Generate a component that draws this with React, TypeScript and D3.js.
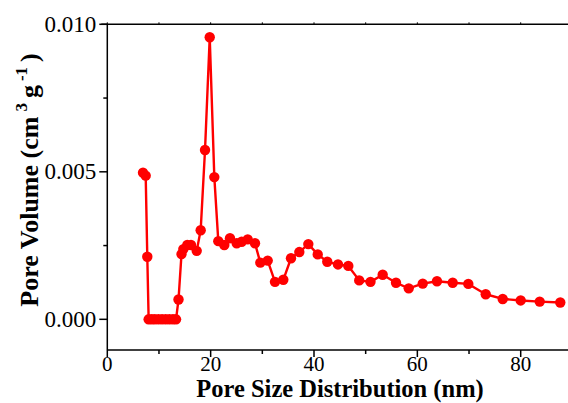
import React from "react";
import * as d3 from "d3";

const poreSize = [6.91, 7.43, 7.74, 8.0, 8.6, 9.2, 9.9, 10.6, 11.3, 12.0, 12.7, 13.3, 13.78, 14.36, 14.71, 15.48, 16.2, 17.3, 18.07, 18.91, 19.82, 20.71, 21.48, 22.64, 23.74, 25.04, 26.0, 27.17, 28.58, 29.61, 31.04, 32.45, 34.06, 35.55, 37.16, 38.9, 40.72, 42.57, 44.64, 46.64, 48.75, 50.93, 53.29, 55.87, 58.33, 61.04, 63.8, 66.84, 69.86, 73.23, 76.52, 80.0, 83.68, 87.66];
const poreVolume = [0.00497, 0.00487, 0.00212, 0, 0, 0, 0, 0, 0, 0, 0, 0, 0.00067, 0.00221, 0.00238, 0.00252, 0.00252, 0.00232, 0.00302, 0.00574, 0.00956, 0.00482, 0.00265, 0.00252, 0.00275, 0.00258, 0.00263, 0.00271, 0.00258, 0.00192, 0.00199, 0.00127, 0.00134, 0.00207, 0.00228, 0.00255, 0.0022, 0.00195, 0.00186, 0.00181, 0.00132, 0.00127, 0.00151, 0.00124, 0.00105, 0.00121, 0.00129, 0.00124, 0.0012, 0.00085, 0.00069, 0.00064, 0.0006, 0.00057];

const xMajorTicks = [0, 20, 40, 60, 80];
const xMinorTicks = [10, 30, 50, 70];
const yMajorTicks = [0, 0.005, 0.01];
const yMinorTicks = [0.0025, 0.0075];

const xTitle = "Pore Size Distribution (nm)";

const W = 568;
const H = 403;
const FONT = "'Liberation Serif', 'Times New Roman', serif";

export default function App() {
  const left = 107.3;
  const top = 24.3;
  const bottom = 350;
  const x = d3.scaleLinear().domain([0, 90]).range([left, left + 90 * 5.1675]);
  const y = d3.scaleLinear().domain([-0.00104, 0.01]).range([bottom, top]);

  const data = poreSize.map((s, i) => ({ s, v: poreVolume[i] }));
  const line = d3
    .line<{ s: number; v: number }>()
    .x((d) => x(d.s))
    .y((d) => y(d.v));

  const axisColor = "#000";
  const fmt = d3.format(".3f");

  return (
    <svg
      width={W}
      height={H}
      style={{ position: "absolute", left: 0, top: 0, display: "block", background: "#fff" }}
    >
      <line x1={left} x2={W} y1={bottom} y2={bottom} stroke={axisColor} strokeWidth={1.5} />
      <line x1={left - 6} x2={W} y1={top} y2={top} stroke={axisColor} strokeWidth={1.5} />
      <line x1={left} x2={left} y1={top} y2={bottom} stroke={axisColor} strokeWidth={1.5} />

      {xMajorTicks.map((t) => (
        <g key={"xM" + t}>
          <line x1={x(t)} x2={x(t)} y1={bottom} y2={bottom + 7} stroke={axisColor} strokeWidth={1.5} />
          <line x1={x(t)} x2={x(t)} y1={top} y2={top - 2} stroke={axisColor} strokeWidth={1} />
          <text x={x(t)} y={371} textAnchor="middle" fontFamily={FONT} fontSize={21} fill="#000">
            {t}
          </text>
        </g>
      ))}
      {xMinorTicks.map((t) => (
        <g key={"xm" + t}>
          <line x1={x(t)} x2={x(t)} y1={bottom} y2={bottom + 4} stroke={axisColor} strokeWidth={1.5} />
          <line x1={x(t)} x2={x(t)} y1={top} y2={top - 2} stroke={axisColor} strokeWidth={1} />
        </g>
      ))}

      {yMajorTicks.map((t) => (
        <g key={"yM" + t}>
          <line x1={left - 8} x2={left} y1={y(t)} y2={y(t)} stroke={axisColor} strokeWidth={1.5} />
          <text x={left - 11} y={y(t) + 7.5} textAnchor="end" fontFamily={FONT} fontSize={23} fill="#000">
            {fmt(t)}
          </text>
        </g>
      ))}
      {yMinorTicks.map((t) => (
        <line key={"ym" + t} x1={left - 4} x2={left} y1={y(t)} y2={y(t)} stroke={axisColor} strokeWidth={1.5} />
      ))}

      <path d={line(data) || ""} fill="none" stroke="#ff0000" strokeWidth={2.4} strokeLinejoin="round" />
      {data.map((d, i) => (
        <circle key={i} cx={x(d.s)} cy={y(d.v)} r={5.2} fill="#ff0000" />
      ))}

      <text x={340} y={397.3} textAnchor="middle" fontFamily={FONT} fontWeight="bold" fontSize={24.5} fill="#000">
        {xTitle}
      </text>

      <text
        transform={`translate(38, 180) rotate(-90)`}
        textAnchor="middle"
        fontFamily={FONT}
        fontWeight="bold"
        fontSize={26}
        fill="#000"
      >
        <tspan>Pore Volume (cm</tspan>
        <tspan dx={5} dy={-11} fontSize={17}>3</tspan>
        <tspan dx={5} dy={11}>g</tspan>
        <tspan dx={4} dy={-11} fontSize={17}>-1</tspan>
        <tspan dx={5} dy={11}>)</tspan>
      </text>
    </svg>
  );
}
